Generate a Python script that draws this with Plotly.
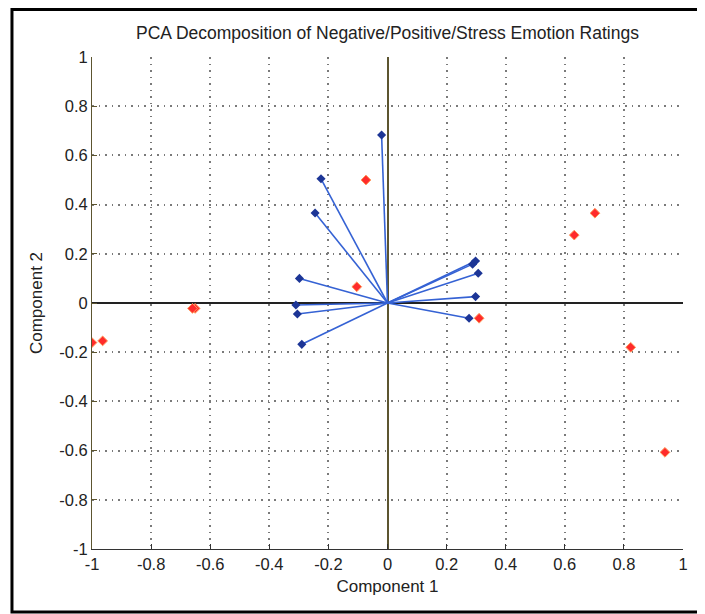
import plotly.graph_objects as go

# Loadings (blue vectors from origin)
load_x = [-0.02, -0.225, -0.245, -0.298, -0.31, -0.305, -0.29, 0.288, 0.298, 0.307, 0.298, 0.276]
load_y = [0.683, 0.505, 0.366, 0.100, -0.008, -0.045, -0.168, 0.158, 0.171, 0.121, 0.026, -0.062]

# Scores (red points)
score_x = [-0.073, -0.104, 0.31, 0.702, 0.632, 0.823, 0.939, -0.651, -0.66, -1.0, -0.964]
score_y = [0.50, 0.066, -0.062, 0.365, 0.276, -0.18, -0.607, -0.022, -0.022, -0.161, -0.154]

tick_vals = [-1, -0.8, -0.6, -0.4, -0.2, 0, 0.2, 0.4, 0.6, 0.8, 1]
tick_text = ["-1", "-0.8", "-0.6", "-0.4", "-0.2", "0", "0.2", "0.4", "0.6", "0.8", "1"]

title_text = "PCA Decomposition of Negative/Positive/Stress Emotion Ratings"
x_title = "Component 1"
y_title = "Component 2"

lx, ly = [], []
for x, y in zip(load_x, load_y):
    lx += [0, x, None]
    ly += [0, y, None]

FONT = "Liberation Sans, Arial, sans-serif"

fig = go.Figure()
fig.add_trace(go.Scatter(x=lx, y=ly, mode="lines",
                         line=dict(color="#3562d4", width=1.6),
                         hoverinfo="skip", showlegend=False))
fig.add_trace(go.Scatter(x=load_x, y=load_y, mode="markers",
                         marker=dict(symbol="diamond", size=7, color="#1c3596"),
                         showlegend=False))
fig.add_trace(go.Scatter(x=score_x, y=score_y, mode="markers",
                         marker=dict(symbol="diamond", size=7.5, color="#ff2b2b",
                                     line=dict(color="#ff9a5a", width=1)),
                         showlegend=False))

axis_common = dict(range=[-1, 1], tickvals=tick_vals, ticktext=tick_text,
                   showgrid=True, gridcolor="#7a7a7a", griddash="1.5px,5px", gridwidth=1.5,
                   ticks="inside", ticklen=5, showline=True, mirror=False,
                   tickfont=dict(family=FONT, size=16.5, color="#222"),
                   zeroline=True, zerolinewidth=1.5)

fig.update_xaxes(**axis_common, linecolor="#333333", tickcolor="#333333",
                 zerolinecolor="#5c5530",
                 title=dict(text=x_title, font=dict(family=FONT, size=17, color="#222"), standoff=8))
fig.update_yaxes(**axis_common, linecolor="#5c5530", tickcolor="#5c5530",
                 zerolinecolor="#222222",
                 title=dict(text=y_title, font=dict(family=FONT, size=17, color="#222"), standoff=12))

fig.update_layout(
    width=697, height=606, autosize=False,
    margin=dict(l=84, r=22, t=49, b=65),
    paper_bgcolor="white", plot_bgcolor="white",
    title=dict(text=title_text, x=0.5, xref="paper", xanchor="center",
               y=1 - 25 / 606, yanchor="middle",
               font=dict(family=FONT, size=17.5, color="#222")),
    shapes=[dict(type="rect", xref="paper", yref="paper",
                 x0=-0.1354, x1=1.2, y0=-0.128, y1=1.0966,
                 line=dict(color="black", width=3), layer="below")],
)

fig.write_html("out.html")
